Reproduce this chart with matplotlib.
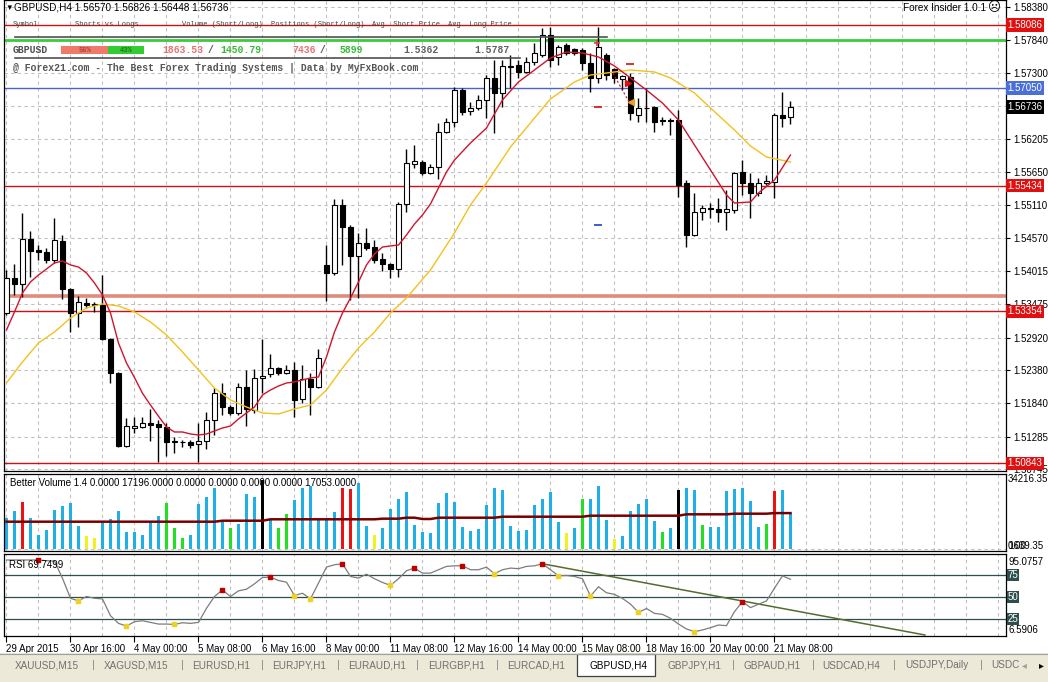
import matplotlib.pyplot as plt
from matplotlib.patches import Rectangle
from matplotlib.lines import Line2D

plt.rcParams['font.family'] = ['Liberation Sans', 'DejaVu Sans']

# ---------------- data (GBPUSD H4) ----------------
opens = [1.53327, 1.53906, 1.53806, 1.54550, 1.54368, 1.54335, 1.54203, 1.54517, 1.53724, 1.53327,
         1.53492, 1.53476, 1.53459, 1.52897, 1.52335, 1.51129, 1.51426, 1.51443, 1.51509, 1.51492,
         1.51443, 1.51211, 1.51195, 1.51195, 1.51162, 1.51211, 1.51558, 1.52005, 1.51773, 1.51674,
         1.52104, 1.51724, 1.52253, 1.52319, 1.52418, 1.52335, 1.52385, 1.51906, 1.52236, 1.52104,
         1.54121, 1.53988, 1.55112, 1.54749, 1.54269, 1.54484, 1.54418, 1.54220, 1.54137, 1.54054,
         1.55129, 1.55790, 1.55823, 1.55641, 1.55740, 1.56319, 1.56484, 1.57013, 1.56666, 1.56716,
         1.56848, 1.57212, 1.56964, 1.57393, 1.57427, 1.57311, 1.57476, 1.57592, 1.57922, 1.57559,
         1.57757, 1.57691, 1.57674, 1.57460, 1.57212, 1.57592, 1.57360, 1.57195, 1.57228, 1.56600,
         1.56716, 1.56732, 1.56517, 1.56517, 1.56517, 1.55476, 1.54616, 1.54997, 1.55063, 1.55046,
         1.54997, 1.55030, 1.55658, 1.55476, 1.55311, 1.55476, 1.55493, 1.56600, 1.56570]
highs = [1.54038, 1.54137, 1.54980, 1.54683, 1.54451, 1.54402, 1.54897, 1.54616, 1.53740, 1.53608,
         1.53575, 1.53509, 1.53955, 1.52914, 1.52352, 1.51591, 1.51608, 1.51608, 1.51740, 1.51558,
         1.51509, 1.51277, 1.51228, 1.51228, 1.51509, 1.51691, 1.52087, 1.52170, 1.51806, 1.52170,
         1.52385, 1.52401, 1.52897, 1.52649, 1.52434, 1.52468, 1.52517, 1.52468, 1.52335, 1.52732,
         1.54451, 1.55212, 1.55212, 1.54782, 1.54650, 1.54732, 1.54534, 1.54319, 1.54154, 1.55162,
         1.56038, 1.56104, 1.55856, 1.55790, 1.56468, 1.56550, 1.57063, 1.57046, 1.56815, 1.56931,
         1.57261, 1.57509, 1.57509, 1.57592, 1.57509, 1.57559, 1.57790, 1.58038, 1.58055, 1.57757,
         1.57790, 1.57708, 1.57708, 1.57625, 1.58055, 1.57625, 1.57377, 1.57261, 1.57294, 1.56881,
         1.57046, 1.56749, 1.56567, 1.56550, 1.56683, 1.55526, 1.55311, 1.55112, 1.55145, 1.55228,
         1.55360, 1.55658, 1.55856, 1.55641, 1.55559, 1.55608, 1.56633, 1.56980, 1.56826]
lows = [1.53294, 1.53625, 1.53592, 1.53922, 1.54203, 1.54154, 1.54154, 1.53559, 1.53013, 1.53096,
        1.53410, 1.53344, 1.52881, 1.52170, 1.51112, 1.51112, 1.51344, 1.51426, 1.51211, 1.50864,
        1.50963, 1.51013, 1.51112, 1.51096, 1.50864, 1.51079, 1.51310, 1.51641, 1.51641, 1.51641,
        1.51459, 1.51674, 1.52005, 1.52269, 1.52302, 1.52319, 1.51608, 1.51839, 1.51641, 1.52087,
        1.53525, 1.53955, 1.54121, 1.53542, 1.53575, 1.54368, 1.54154, 1.54021, 1.53906, 1.53922,
        1.54997, 1.55724, 1.55608, 1.55625, 1.55542, 1.56303, 1.56402, 1.56600, 1.56600, 1.56683,
        1.56550, 1.56303, 1.56732, 1.57046, 1.57212, 1.57294, 1.57427, 1.57559, 1.57393, 1.57427,
        1.57592, 1.57592, 1.57344, 1.56980, 1.57129, 1.57179, 1.57129, 1.57013, 1.56517, 1.56484,
        1.56484, 1.56319, 1.56435, 1.56269, 1.55245, 1.54418, 1.54600, 1.54864, 1.54897, 1.54831,
        1.54699, 1.54980, 1.55278, 1.54897, 1.55261, 1.55443, 1.55228, 1.56402, 1.56448]
closes = [1.53906, 1.53806, 1.54550, 1.54352, 1.54335, 1.54203, 1.54534, 1.53724, 1.53327, 1.53509,
          1.53459, 1.53459, 1.52897, 1.52335, 1.51129, 1.51459, 1.51459, 1.51509, 1.51476, 1.51443,
          1.51195, 1.51195, 1.51190, 1.51145, 1.51211, 1.51558, 1.52005, 1.51773, 1.51674, 1.52104,
          1.51740, 1.52253, 1.52286, 1.52418, 1.52335, 1.52385, 1.51889, 1.52236, 1.52104, 1.52583,
          1.53988, 1.55112, 1.54749, 1.54269, 1.54484, 1.54402, 1.54203, 1.54137, 1.54054, 1.55129,
          1.55807, 1.55840, 1.55641, 1.55740, 1.56319, 1.56484, 1.57013, 1.56650, 1.56716, 1.56848,
          1.57212, 1.56964, 1.57410, 1.57410, 1.57311, 1.57476, 1.57625, 1.57922, 1.57509, 1.57724,
          1.57625, 1.57625, 1.57460, 1.57212, 1.57724, 1.57261, 1.57212, 1.57245, 1.56633, 1.56716,
          1.56708, 1.56484, 1.56509, 1.56505, 1.55443, 1.54616, 1.54997, 1.55063, 1.55046, 1.54997,
          1.55046, 1.55641, 1.55476, 1.55311, 1.55476, 1.55509, 1.56600, 1.56550, 1.56736]

# moving averages (bar index, price)
red_ma_idx = [0, 1, 2, 3, 4, 5, 6, 7, 8, 9, 10, 11, 12, 13, 14, 15, 16, 17, 18, 19,
              20, 21, 22, 23, 24, 25, 26, 27, 28, 29, 30, 31, 32, 33, 34, 35, 36, 37, 38, 39,
              40, 41, 42, 43, 44, 45, 46, 47, 48, 49, 50, 51, 52, 53, 54, 55, 56, 58, 60, 62,
              64, 66, 68, 70, 72, 74, 76, 78, 80, 82, 84, 86, 88, 90, 91, 93, 94, 96, 98]
red_ma = [1.53046, 1.53344, 1.53658, 1.53840, 1.53955, 1.54054, 1.54154, 1.54187, 1.54121, 1.54087,
          1.53988, 1.53823, 1.53625, 1.53327, 1.52831, 1.52501, 1.52260, 1.52000, 1.51806, 1.51620,
          1.51443, 1.51360, 1.51360, 1.51327, 1.51310, 1.51327, 1.51377, 1.51426, 1.51459, 1.51575,
          1.51674, 1.51773, 1.51972, 1.52054, 1.52120, 1.52170, 1.52187, 1.52220, 1.52253, 1.52269,
          1.52600, 1.53013, 1.53327, 1.53575, 1.53840, 1.54121, 1.54302, 1.54418, 1.54435, 1.54451,
          1.54616, 1.54798, 1.54947, 1.55129, 1.55393, 1.55658, 1.55856, 1.56137, 1.56385, 1.56848,
          1.57146, 1.57344, 1.57542, 1.57641, 1.57625, 1.57559, 1.57410, 1.57212, 1.57013, 1.56798,
          1.56517, 1.56104, 1.55691, 1.55278, 1.55145, 1.55162, 1.55311, 1.55526, 1.55939]
yel_ma_idx = [0, 2, 4, 6, 8, 10, 12, 14, 16, 18, 20, 22, 24, 26, 28, 30, 32, 34, 36, 38,
              40, 42, 44, 46, 48, 50, 53, 56, 58, 60, 63, 66, 68, 71, 73, 76, 78, 81, 83, 86,
              88, 91, 93, 95, 98]
yel_ma = [1.52170, 1.52517, 1.52831, 1.53013, 1.53244, 1.53410, 1.53476, 1.53443, 1.53344, 1.53178,
          1.52963, 1.52682, 1.52385, 1.52087, 1.51889, 1.51773, 1.51674, 1.51658, 1.51740, 1.51806,
          1.52054, 1.52418, 1.52749, 1.53013, 1.53327, 1.53575, 1.54038, 1.54650, 1.55112, 1.55476,
          1.56071, 1.56550, 1.56865, 1.57146, 1.57261, 1.57311, 1.57344, 1.57311, 1.57212, 1.56964,
          1.56716, 1.56352, 1.56088, 1.55906, 1.55823]

# horizontal levels
red_levels = [1.58086, 1.55434, 1.53354, 1.50843]
green_level = 1.57840
blue_level = 1.57050
salmon_level = 1.53608
bid_price = 1.56736
price_ticks = [1.58380, 1.57840, 1.57300, 1.56205, 1.55650, 1.55110, 1.54570, 1.54015,
               1.53475, 1.52920, 1.52380, 1.51840, 1.51285, 1.50745]
hidden_tick = 1.56755

# Better Volume
volume = [14725, 18050, 22325, 14725, 6650, 9025, 18525, 20425, 21850, 10925,
          6175, 5225, 12825, 14250, 18050, 8075, 8075, 6650, 12825, 15675,
          21850, 9975, 5225, 6650, 21375, 24700, 28975, 12825, 9975, 11875,
          26125, 24700, 32775, 14250, 9975, 16625, 23275, 28975, 29925, 14250,
          14250, 17575, 28975, 28500, 31350, 10925, 6650, 9975, 19000, 23750,
          27075, 11400, 8075, 7600, 21850, 26600, 22325, 10450, 8550, 9500,
          20900, 28975, 28025, 10925, 8550, 9025, 20900, 23750, 27075, 12825,
          7600, 9975, 23750, 23750, 29925, 13775, 4750, 6175, 18050, 21375,
          23750, 13300, 8075, 9975, 28025, 28975, 28025, 11400, 10450, 10450,
          27550, 28500, 28975, 22800, 10450, 11875, 27550, 28025, 17196]
# b normal, r climax, y low volume, g churn, k climax+churn
vol_type = ("bbrbbbbbbb" "yybbbbbbbb" "gggbbbbbgb" "bbkbggbbbb" "bbrrbbybbb"
            "bbbbbbbbbb" "bbbbbbbbbb" "ybgbbbybbb" "bbgbkbbgbb" "bbbbbgrbb")
vol_avg = [12970, 12970, 12970, 12970, 12970, 12970, 12970, 12970, 12970, 12970,
           12970, 12970, 12970, 12970, 12970, 12970, 12970, 12970, 12970, 12970,
           12970, 12970, 12970, 12970, 12970, 12970, 12970, 13440, 13440, 13440,
           13440, 13440, 13440, 14110, 14110, 14110, 14110, 14110, 14110, 14110,
           14110, 14110, 14110, 14110, 14110, 14110, 14110, 14400, 14400, 14400,
           14870, 14870, 14250, 14250, 14870, 14870, 14870, 14870, 14870, 14870,
           14870, 14870, 15340, 15340, 15340, 15340, 15340, 15340, 15340, 15340,
           15340, 15340, 15340, 15820, 15820, 15820, 15820, 15820, 15820, 15820,
           15820, 15820, 15820, 15820, 15820, 16480, 16480, 16480, 16480, 16480,
           16480, 16770, 16770, 16770, 16770, 16770, 17053, 17053, 17053]

# RSI
rsi = [91.7, 91.7, 91.7, 91.7, 91.7, 90.9, 90.5, 70.9, 48.2, 45.2,
       50.2, 48.2, 47.5, 28.4, 19.7, 16.6, 21.6, 22.7, 20.8, 18.9,
       18.9, 18.5, 20.4, 19.7, 20.8, 36.8, 50.2, 57.7, 50.2, 56.6,
       58.5, 64.6, 71.8, 72.2, 68.4, 66.5, 51.3, 53.9, 47.5, 65.4,
       83.6, 86.3, 87.4, 73.0, 71.1, 75.6, 70.4, 66.2, 62.8, 70.4,
       79.5, 82.5, 76.8, 76.8, 80.6, 84.4, 85.1, 85.1, 80.6, 80.6,
       83.6, 76.0, 80.6, 82.5, 81.8, 84.4, 85.1, 87.4, 80.6, 73.7,
       74.1, 73.0, 70.4, 50.6, 61.3, 54.5, 52.6, 48.0, 41.6, 32.1,
       36.6, 31.0, 29.9, 25.4, 18.9, 13.3, 10.3, 12.2, 14.8, 17.8,
       17.1, 33.0, 44.4, 37.6, 41.4, 45.2, 59.6, 73.7, 69.75]
rsi_peaks = [4, 27, 33, 42, 51, 57, 67, 92]
rsi_troughs = [9, 15, 21, 36, 38, 48, 61, 69, 73, 79, 86]
rsi_trend_x = [67, 114.8]
rsi_trend_y = [87.4, 6.5]

x_label_idx = [0, 8, 16, 24, 32, 40, 48, 56, 64, 72, 80, 88, 96]
x_labels = ['29 Apr 2015', '30 Apr 16:00', '4 May 00:00', '5 May 08:00', '6 May 16:00',
            '8 May 00:00', '11 May 08:00', '12 May 16:00', '14 May 00:00', '15 May 08:00',
            '18 May 16:00', '20 May 00:00', '21 May 08:00']

tabs = ['XAUUSD,M15', 'XAGUSD,M15', 'EURUSD,H1', 'EURJPY,H1', 'EURAUD,H1', 'EURGBP,H1',
        'EURCAD,H1', 'GBPUSD,H4', 'GBPJPY,H1', 'GBPAUD,H1', 'USDCAD,H4', 'USDJPY,Daily', 'USDC']

# ---------------- layout ----------------
W, H = 1048.0, 682.0
fig = plt.figure(figsize=(10.48, 6.82), dpi=100)
fig.patch.set_facecolor('white')


def frame(l, t, r, b):
    return [l / W, 1 - b / H, (r - l) / W, (b - t) / H]


def ptext(x, y, s, **kw):
    kw.setdefault('va', 'center')
    fig.text(x / W, 1 - y / H, s, **kw)


def pline(x0, x1, y, **kw):
    fig.add_artist(Line2D([x0 / W, x1 / W], [1 - y / H, 1 - y / H], **kw))


ax = fig.add_axes(frame(4, 0, 1006, 471))
axv = fig.add_axes(frame(4, 474, 1006, 551))
axr = fig.add_axes(frame(4, 554, 1006, 636))

grid_kw = dict(color='#C0C0C0', lw=0.8, ls=(0, (3, 3)), zorder=0)
for a in (ax, axv, axr):
    a.set_xlim(-0.31, 124.94)
    for s in a.spines.values():
        s.set_color('black')
        s.set_linewidth(0.9)
    for gx in range(0, 125, 4):
        a.axvline(gx, **grid_kw)

# ---- price panel ----
ax.set_ylim(1.50715, 1.58501)
ax.set_xticks([])
ax.yaxis.tick_right()
ax.set_yticks(price_ticks)
ax.set_yticklabels([f'{p:.5f}' for p in price_ticks])
ax.tick_params(axis='y', length=3, width=0.8, pad=2, labelsize=7)
for p in price_ticks + [hidden_tick]:
    ax.axhline(p, **grid_kw)

for p in red_levels:
    ax.axhline(p, color='#D01010', lw=1.0, zorder=2)
ax.axhline(salmon_level, color='#DE8C7C', lw=2.6, zorder=2)
ax.axhline(blue_level, color='#4A63C8', lw=1.0, zorder=2)
ax.axhline(green_level, color='#3CCB3C', lw=2.0, zorder=2)

for i in range(len(opens)):
    o, h, l, c = opens[i], highs[i], lows[i], closes[i]
    ax.vlines(i, l, h, color='black', lw=1.0, zorder=3)
    ax.add_patch(Rectangle((i - 0.3, min(o, c)), 0.6, max(abs(c - o), 0.00002),
                           facecolor='white' if c >= o else 'black',
                           edgecolor='black', lw=0.8, zorder=4))

ax.plot(yel_ma_idx, yel_ma, color='#F2C21B', lw=1.0, zorder=5)
ax.plot(red_ma_idx, red_ma, color='#D0142C', lw=1.0, zorder=6)

# trade marks
ax.plot([75.8, 77.9], [1.57294, 1.56798], color='#D01010', lw=0.8, ls=(0, (2, 2)), zorder=6)
ax.plot([73.9, 77.9], [1.56732, 1.57443], '_', color='#D01010', ms=6, mew=1.2, zorder=6)
ax.plot([73.9], [1.54782], '_', color='#2040C0', ms=6, mew=1.2, zorder=6)
ax.plot([73.8], [1.57790], '+', color='#E04040', ms=5, mew=1.2, zorder=6)
ax.plot([77.7], [1.57129], '>', color='#E01010', ms=4, zorder=7)
ax.plot([78.1], [1.56815], '<', color='#F0A020', ms=4, zorder=7)

ytr = ax.get_yaxis_transform()
box_kw = dict(transform=ytr, fontsize=7, color='white', ha='left', va='center', zorder=10, clip_on=False)
for p in red_levels:
    ax.text(1.0015, p, f'{p:.5f}', bbox=dict(boxstyle='square,pad=0.18', fc='#E01010', ec='none'), **box_kw)
ax.text(1.0015, blue_level, f'{blue_level:.5f}', bbox=dict(boxstyle='square,pad=0.18', fc='#4A6FD8', ec='none'), **box_kw)
ax.text(1.0015, bid_price, f'{bid_price:.5f}', bbox=dict(boxstyle='square,pad=0.18', fc='black', ec='none'), **box_kw)

# ---- volume panel ----
vcol = {'b': '#1FB0EA', 'r': '#EE1111', 'y': '#F2F21A', 'g': '#22E022', 'k': 'black'}
axv.bar(range(len(volume)), volume, width=0.42, color=[vcol[t] for t in vol_type], zorder=2)
axv.plot(range(len(vol_avg)), vol_avg, color='#7A0000', lw=1.8, zorder=3)
axv.set_ylim(-950, 35625)
axv.set_xticks([])
axv.set_yticks([])
axv.axhline(0, **grid_kw)
axv.text(1.002, 1.0, '34216.35', transform=axv.transAxes, fontsize=7, va='top', ha='left')
axv.text(1.002, 0.0, '1639.35', transform=axv.transAxes, fontsize=7, va='bottom', ha='left')
axv.text(1.002, 0.0, '0.00', transform=axv.transAxes, fontsize=7, va='bottom', ha='left')

# ---- RSI panel ----
axr.set_ylim(5.34, 98.5)
for lv in (75, 50, 25):
    axr.axhline(lv, color='#2F4F4F', lw=0.9, zorder=1)
axr.plot(rsi_trend_x, rsi_trend_y, color='#556B2F', lw=1.1, zorder=2)
axr.plot(range(len(rsi)), rsi, color='#7C7C7C', lw=0.9, zorder=3)
axr.scatter(rsi_peaks, [rsi[i] for i in rsi_peaks], marker='s', s=5, color='#C00000', zorder=4)
axr.scatter(rsi_troughs, [rsi[i] for i in rsi_troughs], marker='s', s=5, color='#F0D020', zorder=4)
axr.set_yticks([])
axr.set_xticks(x_label_idx)
axr.set_xticklabels(x_labels, ha='left', fontsize=7)
axr.tick_params(axis='x', length=4, width=0.8, pad=2)
rtr = axr.get_yaxis_transform()
axr.text(1.002, 95.0757, '95.0757', transform=rtr, fontsize=7, va='top', ha='left')
axr.text(1.002, 6.5906, '6.5906', transform=rtr, fontsize=7, va='bottom', ha='left')
for lv in (75, 50, 25):
    axr.text(1.0015, lv, str(lv), transform=rtr, fontsize=7, color='white', va='center', ha='left',
             bbox=dict(boxstyle='square,pad=0.1', fc='#2F4F4F', ec='none'), clip_on=False)

# ---- overlay texts ----
ptext(5, 8, '\u25BC', fontsize=5.5)
ptext(14, 8, 'GBPUSD,H4 1.56570 1.56826 1.56448 1.56736', fontsize=7.2)
ptext(986, 8, 'Forex Insider 1.0.1', fontsize=7.2, ha='right')
ptext(988, 8, '\u2639', fontsize=9, family='DejaVu Sans')

mono = dict(family='Liberation Mono', color='#404040')
for x, s in [(13, 'Symbol'), (75, 'Shorts vs Longs'), (182, 'Volume (Short/Long)'),
             (271, 'Positions (Short/Long)'), (372, 'Avg. Short Price'), (448, 'Avg. Long Price')]:
    ptext(x, 25, s, fontsize=5.0, **mono)
pline(15, 607, 37, color='#505050', lw=1.2)
pline(15, 520, 58, color='#505050', lw=1.2)
fig.add_artist(Rectangle((61 / W, 1 - 54 / H), 47 / W, 8 / H, fc='#F07A6A', ec='none'))
fig.add_artist(Rectangle((108 / W, 1 - 54 / H), 36 / W, 8 / H, fc='#33CC33', ec='none'))
ptext(85, 50, '56%', fontsize=5, ha='center', weight='bold', family='Liberation Mono', color='#B04040')
ptext(126, 50, '43%', fontsize=5, ha='center', weight='bold', family='Liberation Mono', color='#1E7A1E')
bold = dict(fontsize=7, weight='bold', family='Liberation Mono')
ptext(13, 50, 'GBPUSD', color='#505050', **bold)
ptext(162, 50, '1863.53', color='#E87070', **bold)
ptext(208, 50, '/', color='#505050', **bold)
ptext(220, 50, '1450.79', color='#33BB33', **bold)
ptext(292, 50, '7436', color='#E87070', **bold)
ptext(320, 50, '/', color='#505050', **bold)
ptext(340, 50, '5899', color='#33BB33', **bold)
ptext(403, 50, '1.5362', color='#606060', **bold)
ptext(474, 50, '1.5787', color='#606060', **bold)
ptext(13, 68, '@ Forex21.com - The Best Forex Trading Systems | Data by MyFxBook.com', color='#555555', **bold)

ptext(10, 483, 'Better Volume 1.4 0.0000 17196.0000 0.0000 0.0000 0.0000 0.0000 17053.0000', fontsize=7)
ptext(9, 565, 'RSI 69.7499', fontsize=7)

# ---- tab bar ----
axt = fig.add_axes(frame(0, 653, 1048, 682))
axt.set_xlim(0, W)
axt.set_ylim(682, 653)
axt.axis('off')
axt.add_patch(Rectangle((0, 653), W, 29, fc='#ECE9D8', ec='none'))
axt.plot([0, W], [653.5, 653.5], color='#A0A0A0', lw=0.8)
axt.add_patch(Rectangle((577, 654), 78, 22, fc='white', ec='#404040', lw=0.9))
tab_x = [15, 104, 192, 272, 348, 428, 507, 589, 668, 743, 822, 905, 991]
sep_x = [93, 182, 262, 338, 417, 497, 733, 813, 894, 981]
for x, s in zip(tab_x, tabs):
    axt.text(x, 665, s, fontsize=7.2, va='center', ha='left',
             color='black' if s == 'GBPUSD,H4' else '#707070')
for x in sep_x:
    axt.text(x, 665, '|', fontsize=8, va='center', ha='center', color='#8A8A8A')
axt.text(1024, 665, '\u25C2', fontsize=7, va='center', ha='center', color='#A0A0A0', family='DejaVu Sans')
axt.text(1041, 665, '\u25B8', fontsize=7, va='center', ha='center', color='black', family='DejaVu Sans')

fig.savefig('out.png', dpi=100)
